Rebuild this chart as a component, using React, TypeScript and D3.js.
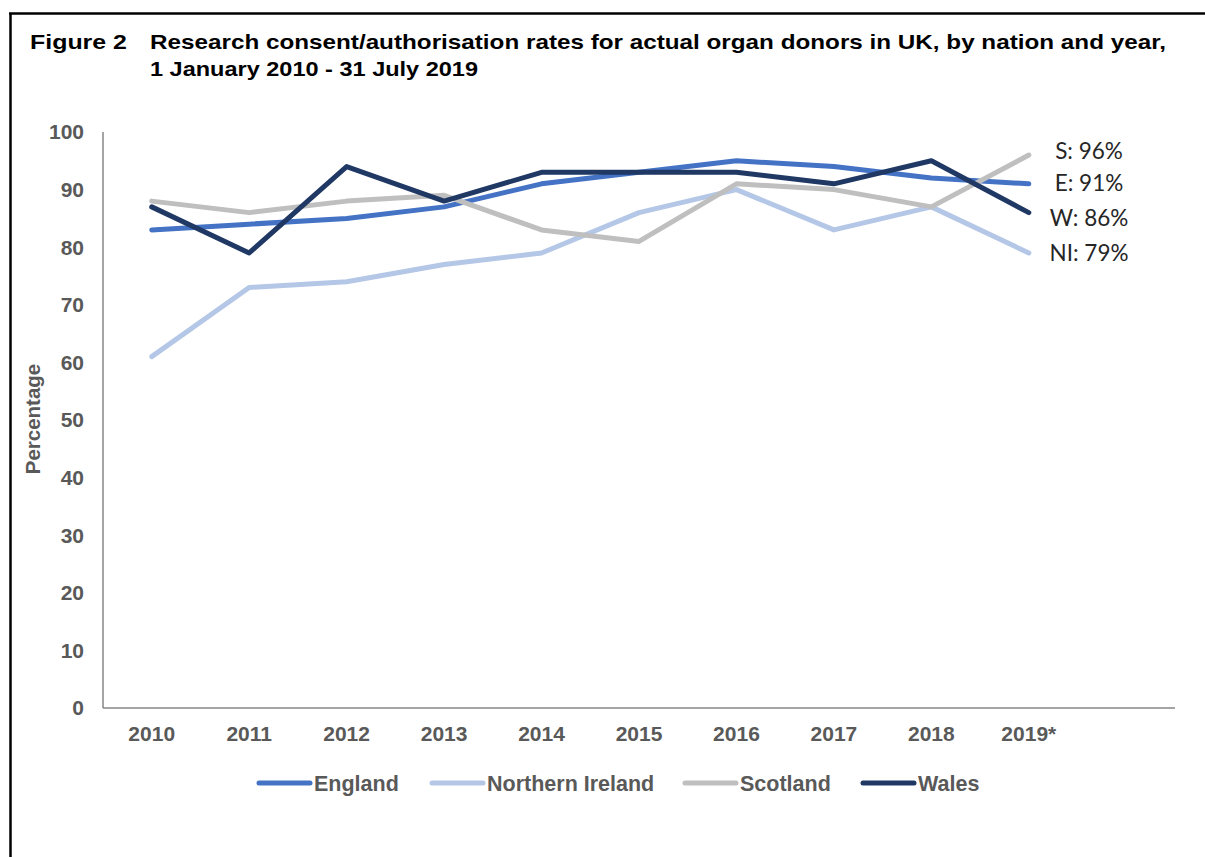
import React from "react";
import * as d3 from "d3";

const years = ["2010", "2011", "2012", "2013", "2014", "2015", "2016", "2017", "2018", "2019*"];
const seriesNames = ["England", "Northern Ireland", "Scotland", "Wales"];
const england = [83, 84, 85, 87, 91, 93, 95, 94, 92, 91];
const northernIreland = [61, 73, 74, 77, 79, 86, 90, 83, 87, 79];
const scotland = [88, 86, 88, 89, 83, 81, 91, 90, 87, 96];
const wales = [87, 79, 94, 88, 93, 93, 93, 91, 95, 86];
const yTicks = [0, 10, 20, 30, 40, 50, 60, 70, 80, 90, 100];
const endLabels = ["E: 91%", "NI: 79%", "S: 96%", "W: 86%"];

const colors = ["#4472C4", "#B4C7E7", "#BFBFBF", "#203864"];
const labelNudge = [-1, 0, -4, 5];
const legendX = [259, 432, 685, 863];

export default function App() {
  const W = 1205;
  const H = 857;
  const left = 103;
  const right = 1175;
  const top = 132;
  const bottom = 708;

  const x = d3.scaleBand<string>().domain([...years, ""]).range([left, right]);
  const y = d3.scaleLinear().domain([0, 100]).range([bottom, top]);
  const cx = (yr: string) => (x(yr) as number) + x.bandwidth() / 2;

  const data = [england, northernIreland, scotland, wales];
  const line = d3
    .line<number>()
    .x((_, i) => cx(years[i]))
    .y((v) => y(v));

  const axisFont = "'Liberation Sans', Arial, sans-serif";
  const gray = "#595959";
  const labelCx = 1089;

  return (
    <svg
      width={W}
      height={H}
      style={{ position: "absolute", left: 0, top: 0, background: "#fff" }}
      xmlns="http://www.w3.org/2000/svg"
    >
      <rect x={0} y={0} width={W} height={H} fill="#fff" />
      {/* frame */}
      <line x1={10.5} y1={13} x2={10.5} y2={H} stroke="#000" strokeWidth={2.5} />
      <line x1={9} y1={13.5} x2={W} y2={13.5} stroke="#000" strokeWidth={2.5} />

      {/* title */}
      <g fontFamily={axisFont} fontWeight="bold" fontSize={20.5} fill="#000">
        <text x={30} y={49} textLength={97} lengthAdjust="spacingAndGlyphs">Figure 2</text>
        <text x={150} y={49} textLength={1016} lengthAdjust="spacingAndGlyphs">
          Research consent/authorisation rates for actual organ donors in UK, by nation and year,
        </text>
        <text x={150} y={76} textLength={328} lengthAdjust="spacingAndGlyphs">
          1 January 2010 - 31 July 2019
        </text>
      </g>

      {/* axes */}
      <line x1={left} y1={top} x2={left} y2={bottom} stroke="#868686" strokeWidth={1.5} />
      <line x1={left} y1={bottom} x2={right} y2={bottom} stroke="#868686" strokeWidth={1.5} />

      <g fontFamily={axisFont} fontWeight="bold" fontSize={21} fill={gray}>
        {yTicks.map((t) => (
          <text key={t} x={84} y={y(t)} dy="0.35em" textAnchor="end">
            {t}
          </text>
        ))}
        {years.map((yr) => (
          <text key={yr} x={cx(yr)} y={734} dy="0.35em" textAnchor="middle">
            {yr}
          </text>
        ))}
        <text
          transform={`translate(33, ${419}) rotate(-90)`}
          textAnchor="middle"
          dy="0.35em"
          fontSize={20.5}
        >
          Percentage
        </text>
      </g>

      {/* series */}
      {data.map((d, i) => (
        <path
          key={seriesNames[i]}
          d={line(d) as string}
          fill="none"
          stroke={colors[i]}
          strokeWidth={5}
          strokeLinejoin="round"
          strokeLinecap="round"
        />
      ))}

      {/* end labels */}
      <g fontFamily="Lato, 'Open Sans', sans-serif" fontSize={22.5} fill="#262626">
        {data.map((d, i) => (
          <text
            key={endLabels[i]}
            x={labelCx}
            y={y(d[d.length - 1]) + labelNudge[i]}
            dy="0.35em"
            textAnchor="middle"
          >
            {endLabels[i]}
          </text>
        ))}
      </g>

      {/* legend */}
      <g fontFamily={axisFont} fontWeight="bold" fontSize={21.5} fill={gray}>
        {seriesNames.map((n, i) => (
          <g key={n}>
            <line
              x1={legendX[i]}
              x2={legendX[i] + 51}
              y1={783}
              y2={783}
              stroke={colors[i]}
              strokeWidth={5}
              strokeLinecap="round"
            />
            <text x={legendX[i] + 55} y={783} dy="0.35em">
              {n}
            </text>
          </g>
        ))}
      </g>
    </svg>
  );
}
